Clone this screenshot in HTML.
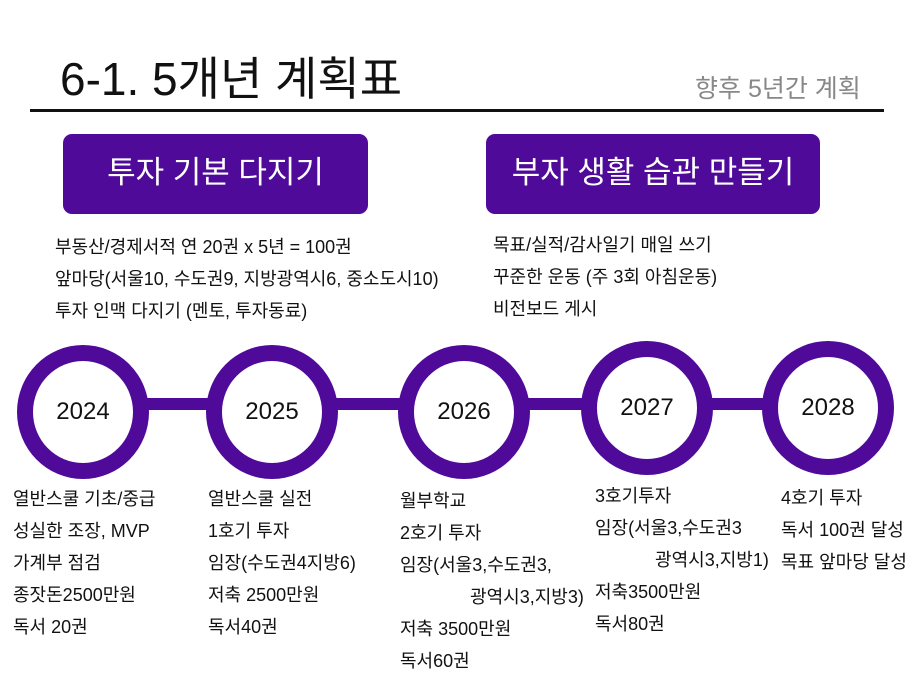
<!DOCTYPE html>
<html><head><meta charset="utf-8"><style>
body{margin:0;width:912px;height:684px;background:#fff;position:relative;overflow:hidden;font-family:"Liberation Sans","Noto Sans CJK KR",sans-serif;color:#111}
.a{position:absolute;white-space:nowrap}
.btn{position:absolute;background:#4f0a9a;color:#fff;border-radius:9px;font-size:31px;text-align:center}
.t{position:absolute;font-size:18px;line-height:32px;white-space:nowrap}
.c{position:absolute;width:100px;height:102px;border:16px solid #4f0a9a;border-radius:50%;background:#fff;font-size:24px;text-align:center;line-height:102px}
.bar{position:absolute;height:12px;background:#4f0a9a;top:398px}
</style></head><body>
<div class="a" style="left:60px;top:43px;font-size:46px">6-1. 5개년 계획표</div>
<div class="a" style="left:695px;top:69px;font-size:25px;color:#888">향후 5년간 계획</div>
<div class="a" style="left:30px;top:109px;width:854px;height:3px;background:#111"></div>
<div class="btn" style="left:63px;top:134px;width:305px;height:80px;line-height:78px">투자 기본 다지기</div>
<div class="btn" style="left:486px;top:134px;width:334px;height:80px;line-height:78px">부자 생활 습관 만들기</div>
<div class="t" style="left:55px;top:231px">부동산/경제서적 연 20권 x 5년 = 100권<br>앞마당(서울10, 수도권9, 지방광역시6, 중소도시10)<br>투자 인맥 다지기 (멘토, 투자동료)</div>
<div class="t" style="left:493px;top:229px">목표/실적/감사일기 매일 쓰기<br>꾸준한 운동 (주 3회 아침운동)<br>비전보드 게시</div>
<div class="bar" style="left:140px;width:650px"></div>
<div class="c" style="left:17px;top:345px">2024</div>
<div class="c" style="left:206px;top:345px">2025</div>
<div class="c" style="left:398px;top:345px">2026</div>
<div class="c" style="left:581px;top:341px">2027</div>
<div class="c" style="left:762px;top:341px">2028</div>
<div class="t" style="left:13px;top:483px">열반스쿨 기초/중급<br>성실한 조장, MVP<br>가계부 점검<br>종잣돈2500만원<br>독서 20권</div>
<div class="t" style="left:208px;top:483px">열반스쿨 실전<br>1호기 투자<br>임장(수도권4지방6)<br>저축 2500만원<br>독서40권</div>
<div class="t" style="left:400px;top:485px">월부학교<br>2호기 투자<br>임장(서울3,수도권3,<br>&nbsp;&nbsp;&nbsp;&nbsp;&nbsp;&nbsp;&nbsp;&nbsp;&nbsp;&nbsp;&nbsp;&nbsp;&nbsp;&nbsp;광역시3,지방3)<br>저축 3500만원<br>독서60권</div>
<div class="t" style="left:595px;top:480px">3호기투자<br>임장(서울3,수도권3<br>&nbsp;&nbsp;&nbsp;&nbsp;&nbsp;&nbsp;&nbsp;&nbsp;&nbsp;&nbsp;&nbsp;&nbsp;광역시3,지방1)<br>저축3500만원<br>독서80권</div>
<div class="t" style="left:781px;top:482px">4호기 투자<br>독서 100권 달성<br>목표 앞마당 달성</div>
</body></html>
